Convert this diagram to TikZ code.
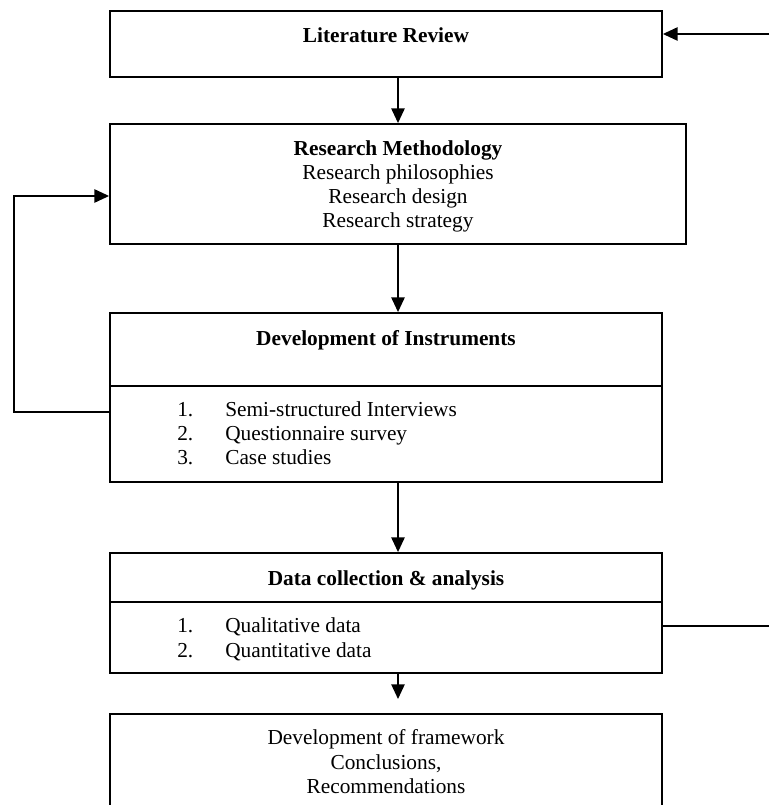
\documentclass[tikz,border=0pt]{standalone}
\usepackage{fontspec}
\setmainfont{Liberation Serif}
\usetikzlibrary{arrows.meta,fit}

\begin{document}
\begin{tikzpicture}[
  x=0.75pt, y=-0.75pt,
  box/.style={draw, line width=1.4pt, inner sep=0pt},
  conn/.style={line width=1.1pt},
  arr/.style={conn, -{Triangle[length=11pt,width=10pt]}},
  title/.style={font=\fontsize{16}{18}\selectfont\bfseries, anchor=base, inner sep=0pt},
  plain/.style={font=\fontsize{16}{18}\selectfont, anchor=base, inner sep=0pt},
  item/.style={font=\fontsize{16}{18}\selectfont, anchor=base west, inner sep=0pt}
]
\useasboundingbox (0,0) rectangle (769,805);
\clip (0,0) rectangle (769,805);

% corner points of the stage boxes
\coordinate (litA) at (110,11);  \coordinate (litB) at (662,77);
\coordinate (rmA)  at (110,124); \coordinate (rmB)  at (686,244);
\coordinate (diA)  at (110,313); \coordinate (diB)  at (662,482);
\coordinate (dcA)  at (110,553); \coordinate (dcB)  at (662,673);
\coordinate (dfA)  at (110,714); \coordinate (dfB)  at (662,830);

% stage boxes
\node[box, fit=(litA)(litB)] (lit) {};
\node[box, fit=(rmA)(rmB)]   (rm)  {};
\node[box, fit=(diA)(diB)]   (di)  {};
\node[box, fit=(dcA)(dcB)]   (dc)  {};
\node[box, fit=(dfA)(dfB)]   (df)  {};

% section dividers
\coordinate (diCut) at (0,386);
\coordinate (dcCut) at (0,602);
\draw[line width=1.4pt] (di.west |- diCut) -- (di.east |- diCut);
\draw[line width=1.4pt] (dc.west |- dcCut) -- (dc.east |- dcCut);

% texts
\node[title] (litT) at (386,43) {Literature Review};

\node[title] (rmT)  at (398,156) {Research Methodology};
\node[plain] (rm1)  at (398,180) {Research philosophies};
\node[plain] (rm2)  at (398,204) {Research design};
\node[plain] (rm3)  at (398,228) {Research strategy};

\node[title] (diT)  at (386,345) {Development of Instruments};
\node[item] (diN1) at (177,416) {1.};
\node[item] (diN2) at (177,440) {2.};
\node[item] (diN3) at (177,464) {3.};
\node[item] (diI1) at (225,416) {Semi-structured Interviews};
\node[item] (diI2) at (225,440) {Questionnaire survey};
\node[item] (diI3) at (225,464) {Case studies};

\node[title] (dcT)  at (386,585) {Data collection \& analysis};
\node[item] (dcN1) at (177,632) {1.};
\node[item] (dcN2) at (177,657) {2.};
\node[item] (dcI1) at (225,632) {Qualitative data};
\node[item] (dcI2) at (225,657) {Quantitative data};

\node[plain] (df1)  at (386,744) {Development of framework};
\node[plain] (df2)  at (386,769) {Conclusions,};
\node[plain] (df3)  at (386,793) {Recommendations};

% free ends of connectors
\coordinate (feedIn)  at (769,34);
\coordinate (feedOut) at (769,626);
\coordinate (loopLow) at (14,412);
\coordinate (loopTop) at (14,196);
\coordinate (dfTip)   at (398,699);

% main flow
\draw[arr] (lit.south -| rm.north) -- (rm.north);
\draw[arr] (rm.south) -- (rm.south |- di.north);
\draw[arr] (di.south -| rm.south) -- (dc.north -| rm.south);
\draw[arr] (dc.south -| rm.south) -- (dfTip);

% feedback loops
\draw[arr] (feedIn) -- (lit.east |- feedIn);
\draw[conn] (dc.east |- feedOut) -- (feedOut);
\draw[arr] (di.west |- loopLow) -- (loopLow) -- (loopTop) -- (rm.west |- loopTop);
\end{tikzpicture}
\end{document}
